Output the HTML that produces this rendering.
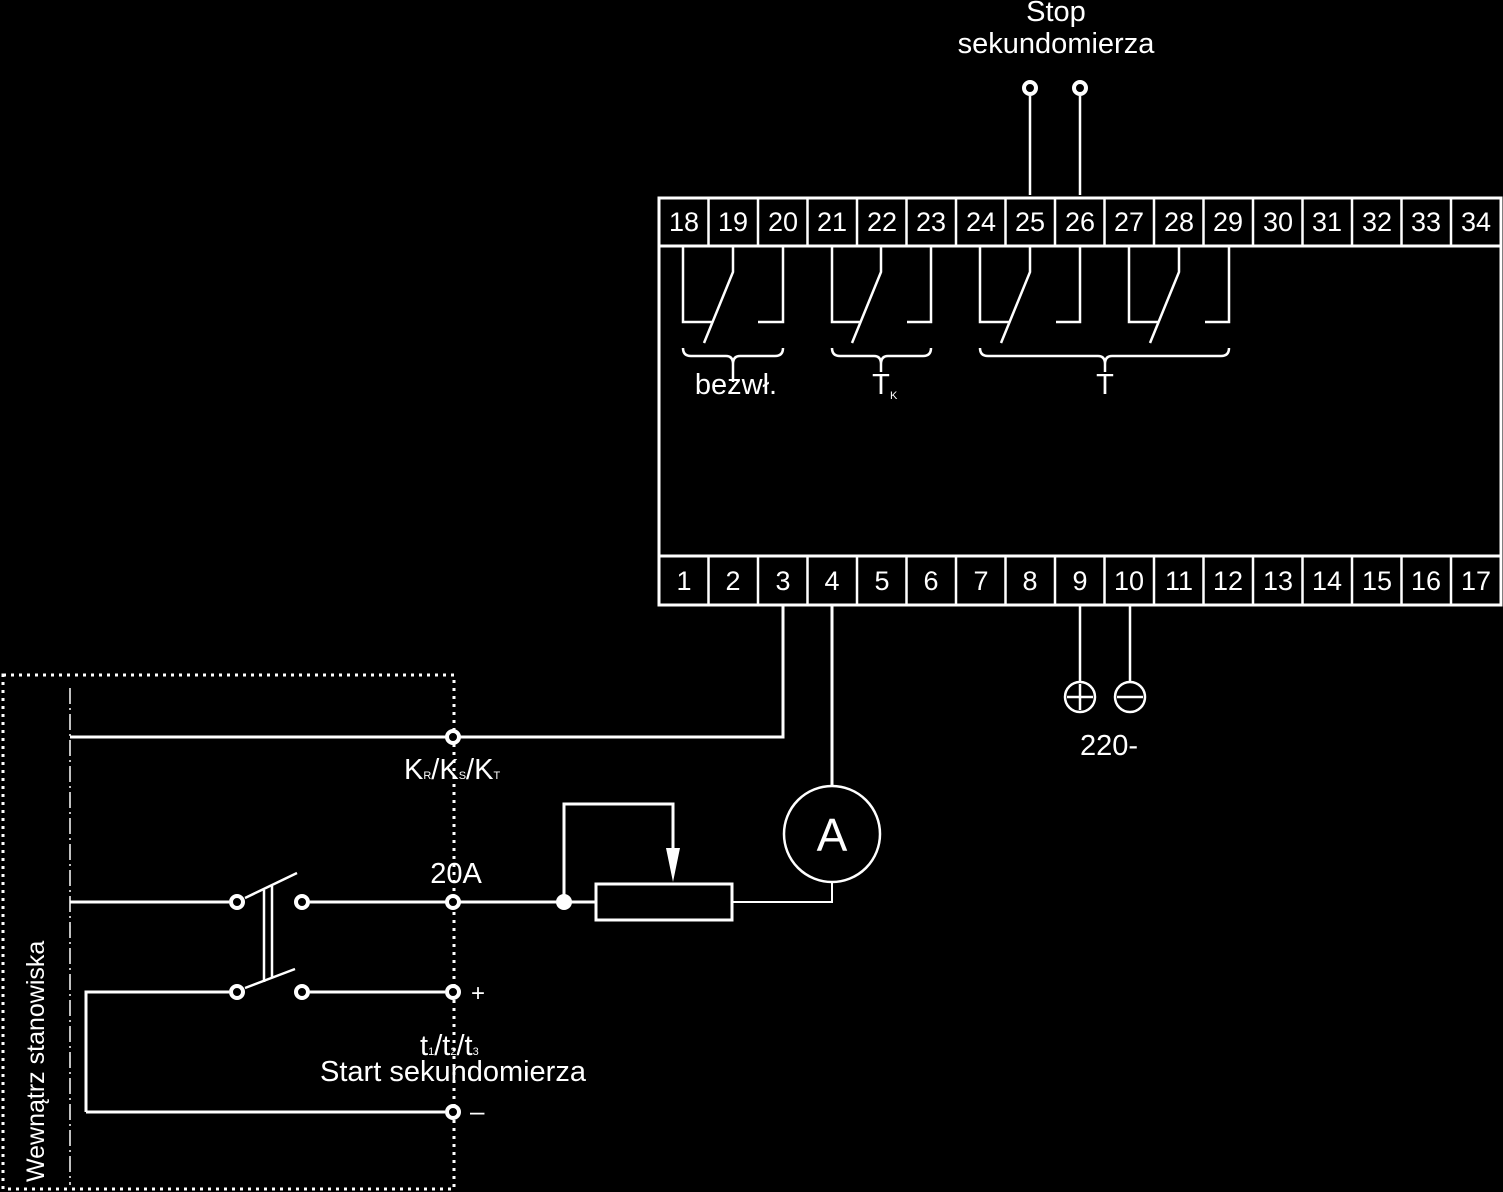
<!DOCTYPE html>
<html><head><meta charset="utf-8"><style>
html,body{margin:0;padding:0;background:#000;}
svg{display:block}
text{font-family:"Liberation Sans",sans-serif;fill:#fff}
</style></head><body>
<svg width="1503" height="1192" viewBox="0 0 1503 1192" xmlns="http://www.w3.org/2000/svg">
<rect width="1503" height="1192" fill="#000"/>
<g stroke="#fff" stroke-width="3" fill="none">
<rect x="659" y="198" width="842" height="407"/>
<line x1="659" y1="246" x2="1501" y2="246"/>
<line x1="659" y1="556" x2="1501" y2="556"/>
<g stroke-width="2.5">
<line x1="708.5" y1="198" x2="708.5" y2="246"/><line x1="758" y1="198" x2="758" y2="246"/><line x1="807.5" y1="198" x2="807.5" y2="246"/><line x1="857" y1="198" x2="857" y2="246"/><line x1="906.5" y1="198" x2="906.5" y2="246"/><line x1="956" y1="198" x2="956" y2="246"/><line x1="1005.5" y1="198" x2="1005.5" y2="246"/><line x1="1055" y1="198" x2="1055" y2="246"/><line x1="1104.5" y1="198" x2="1104.5" y2="246"/><line x1="1154" y1="198" x2="1154" y2="246"/><line x1="1203.5" y1="198" x2="1203.5" y2="246"/><line x1="1253" y1="198" x2="1253" y2="246"/><line x1="1302.5" y1="198" x2="1302.5" y2="246"/><line x1="1352" y1="198" x2="1352" y2="246"/><line x1="1401.5" y1="198" x2="1401.5" y2="246"/><line x1="1451" y1="198" x2="1451" y2="246"/>
<line x1="708.5" y1="556" x2="708.5" y2="605"/><line x1="758" y1="556" x2="758" y2="605"/><line x1="807.5" y1="556" x2="807.5" y2="605"/><line x1="857" y1="556" x2="857" y2="605"/><line x1="906.5" y1="556" x2="906.5" y2="605"/><line x1="956" y1="556" x2="956" y2="605"/><line x1="1005.5" y1="556" x2="1005.5" y2="605"/><line x1="1055" y1="556" x2="1055" y2="605"/><line x1="1104.5" y1="556" x2="1104.5" y2="605"/><line x1="1154" y1="556" x2="1154" y2="605"/><line x1="1203.5" y1="556" x2="1203.5" y2="605"/><line x1="1253" y1="556" x2="1253" y2="605"/><line x1="1302.5" y1="556" x2="1302.5" y2="605"/><line x1="1352" y1="556" x2="1352" y2="605"/><line x1="1401.5" y1="556" x2="1401.5" y2="605"/><line x1="1451" y1="556" x2="1451" y2="605"/>
</g>
<g stroke-width="2.5">
<path d="M683 246V322H712M783 246V322H758M733 246V272L704 343"/>
<path d="M832 246V322H861M931 246V322H907M881 246V272L852 343"/>
<path d="M980 246V322H1009M1080 246V322H1056M1030 246V272L1001 343"/>
<path d="M1129 246V322H1158M1229 246V322H1205M1179 246V272L1150 343"/>
<path d="M683 348q0 8 8 8H726q7 0 7 8q0-8 7-8H775q8 0 8-8M733 364V382"/>
<path d="M832 348q0 8 8 8H874q7 0 7 8q0-8 7-8H923q8 0 8-8M881 364V372"/>
<path d="M980 348q0 8 8 8H1098q7 0 7 8q0-8 7-8H1221q8 0 8-8M1105 364V372"/>
<path d="M1030 195V96M1080 195V96"/>
</g>
<circle cx="1030" cy="88" r="6" stroke-width="4"/>
<circle cx="1080" cy="88" r="6" stroke-width="4"/>
<path d="M1080 605V682M1130 605V682" stroke-width="2.5"/>
<circle cx="1080" cy="697" r="15" stroke-width="2.5"/>
<circle cx="1130" cy="697" r="15" stroke-width="2.5"/>
<path d="M1067 697H1093M1080 684V710M1117 697H1143" stroke-width="2.5"/>
<path d="M783 605V737H70"/>
<path d="M832 605V786"/>
<circle cx="832" cy="834" r="48" stroke-width="2.5"/>
<path d="M832 882V902H733" stroke-width="2"/>
<rect x="3" y="675" width="451" height="514" stroke-dasharray="3 5"/>
<line x1="70" y1="688" x2="70" y2="1185" stroke-width="1.5" stroke-dasharray="16 4 2 4"/>
<path d="M70 902H229M310 902H564H596"/>
<path d="M86 1112V992H229M310 992H445M86 1112H445"/>
<path d="M245 898L297 873M245 988L295 969" stroke-width="2.5"/>
<path d="M264 890V982M272 886V978" stroke-width="2.5"/>
<path d="M564 902V804H673V850"/>
<rect x="596" y="884" width="136" height="36"/>
</g>
<polygon points="666,848 680,848 673,882" fill="#fff"/>
<circle cx="564" cy="902" r="8" fill="#fff"/>
<g fill="#000" stroke="#fff" stroke-width="4">
<circle cx="453" cy="737" r="6"/><circle cx="453" cy="902" r="6"/><circle cx="453" cy="992" r="6"/><circle cx="453" cy="1112" r="6"/>
<circle cx="237" cy="902" r="6"/><circle cx="302" cy="902" r="6"/><circle cx="237" cy="992" r="6"/><circle cx="302" cy="992" r="6"/>
</g>
<g font-size="27" text-anchor="middle">
<text x="684" y="231">18</text><text x="733" y="231">19</text><text x="783" y="231">20</text><text x="832" y="231">21</text><text x="882" y="231">22</text><text x="931" y="231">23</text><text x="981" y="231">24</text><text x="1030" y="231">25</text><text x="1080" y="231">26</text><text x="1129" y="231">27</text><text x="1179" y="231">28</text><text x="1228" y="231">29</text><text x="1278" y="231">30</text><text x="1327" y="231">31</text><text x="1377" y="231">32</text><text x="1426" y="231">33</text><text x="1476" y="231">34</text>
<text x="684" y="590">1</text><text x="733" y="590">2</text><text x="783" y="590">3</text><text x="832" y="590">4</text><text x="882" y="590">5</text><text x="931" y="590">6</text><text x="981" y="590">7</text><text x="1030" y="590">8</text><text x="1080" y="590">9</text><text x="1129" y="590">10</text><text x="1179" y="590">11</text><text x="1228" y="590">12</text><text x="1278" y="590">13</text><text x="1327" y="590">14</text><text x="1377" y="590">15</text><text x="1426" y="590">16</text><text x="1476" y="590">17</text>
</g>
<g font-size="29" text-anchor="middle">
<text x="1056" y="21">Stop</text><text x="1056" y="53">sekundomierza</text>
<text x="736" y="394">bezwł.</text>
<text x="1109" y="755">220-</text>
<text x="456" y="883">20A</text>
<text x="453" y="1081">Start sekundomierza</text>
</g>
<text x="832" y="851" font-size="46" text-anchor="middle">A</text>
<text x="881" y="394" font-size="29" text-anchor="middle">T</text><text x="890" y="399" font-size="11">K</text>
<text x="1105" y="394" font-size="29" text-anchor="middle">T</text>
<text x="404" y="779" font-size="29">K<tspan font-size="11">R</tspan>/K<tspan font-size="11">S</tspan>/K<tspan font-size="11">T</tspan></text>
<text x="420" y="1055" font-size="29">t<tspan font-size="11">1</tspan>/t<tspan font-size="11">2</tspan>/t<tspan font-size="11">3</tspan></text>
<text x="471" y="1001" font-size="24">+</text>
<text x="470" y="1120" font-size="26">–</text>
<text transform="translate(44,1182) rotate(-90)" font-size="25">Wewnątrz stanowiska</text>
</svg>
</body></html>
